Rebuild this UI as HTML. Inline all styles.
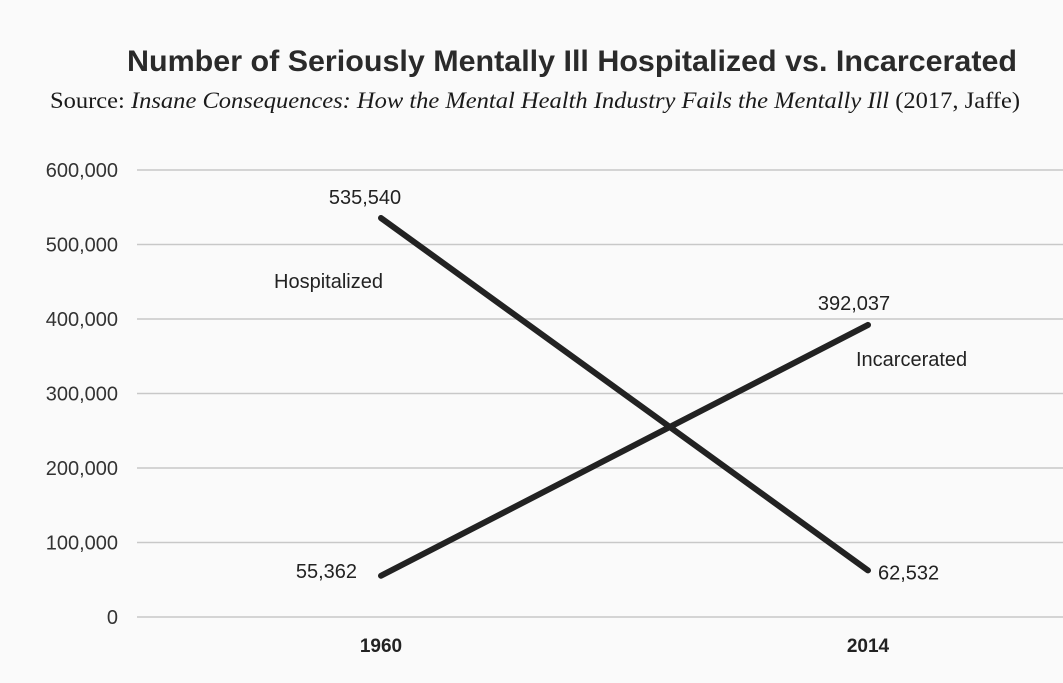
<!DOCTYPE html>
<html><head><meta charset="utf-8"><style>
html,body{margin:0;padding:0;background:#fafafa;}
svg{display:block;}
</style></head><body>
<svg id="chart" width="1063" height="683" viewBox="0 0 1063 683" xmlns="http://www.w3.org/2000/svg" font-family="'Liberation Sans', sans-serif">
<rect width="1063" height="683" fill="#fafafa"/>
<text x="127" y="71" font-size="30" font-weight="bold" fill="#2a2a2a" textLength="890" lengthAdjust="spacingAndGlyphs">Number of Seriously Mentally Ill Hospitalized vs. Incarcerated</text>
<text x="50" y="108" font-family="'Liberation Serif', serif" font-size="23" fill="#1a1a1a" textLength="970" lengthAdjust="spacingAndGlyphs">Source: <tspan font-style="italic">Insane Consequences: How the Mental Health Industry Fails the Mentally Ill</tspan> (2017, Jaffe)</text>
<g id="grid"></g><g id="ticks"></g><g id="series"></g><g id="labels"></g>
</svg>
<script>
const categories = ["1960", "2014"];
const hospitalized = [535540, 62532];
const incarcerated = [55362, 392037];
const yTicks = [0, 100000, 200000, 300000, 400000, 500000, 600000];
const yTickLabels = ["0", "100,000", "200,000", "300,000", "400,000", "500,000", "600,000"];

const NS = "http://www.w3.org/2000/svg";
const y = v => 617 - v * (617 - 170) / 600000;
const x = i => 381 + i * (868 - 381);
function mk(tag, attrs, parent, txt) {
  const e = document.createElementNS(NS, tag);
  for (const k in attrs) e.setAttribute(k, attrs[k]);
  if (txt !== undefined) e.textContent = txt;
  document.getElementById(parent).appendChild(e);
  return e;
}
const fmt = v => v.toLocaleString("en-US");
yTicks.forEach((t, i) => {
  const l = mk("line", {x1: 137, x2: 1063, y1: y(t), y2: y(t), stroke: "#c8c8c8", "stroke-width": 1.5}, "grid");
  
  
  const tx = mk("text", {x: 118, y: y(t) + 7, "text-anchor": "end", "font-size": 20, fill: "#333"}, "ticks", yTickLabels[i]);
  
  
});
categories.forEach((c, i) => {
  const tx = mk("text", {x: x(i), y: 652, "text-anchor": "middle", "font-size": 19, "font-weight": "bold", fill: "#222"}, "ticks", c);
  
  
});
function series(vals, name) {
  const l = mk("line", {x1: x(0), y1: y(vals[0]), x2: x(1), y2: y(vals[1]), stroke: "#222", "stroke-width": 6, "stroke-linecap": "round"}, "series");
  
  
}
series(hospitalized, "hospitalized");
series(incarcerated, "incarcerated");
function lab(tx, xx, yy, anchor, name) {
  const t = mk("text", {x: xx, y: yy, "text-anchor": anchor, "font-size": 20, fill: "#222"}, "labels", tx);
  
  
}
lab(fmt(hospitalized[0]), x(0) - 16, y(hospitalized[0]) - 14, "middle", "value-label-hospitalized-1960");
lab(fmt(hospitalized[1]), x(1) + 10, y(hospitalized[1]) + 9, "start", "value-label-hospitalized-2014");
lab(fmt(incarcerated[0]), x(0) - 24, y(incarcerated[0]) + 2, "end", "value-label-incarcerated-1960");
lab(fmt(incarcerated[1]), x(1) - 14, y(incarcerated[1]) - 15, "middle", "value-label-incarcerated-2014");
lab("Hospitalized", 274, 288, "start", "series-label-hospitalized");
lab("Incarcerated", 856, 366, "start", "series-label-incarcerated");
</script>
</body></html>
